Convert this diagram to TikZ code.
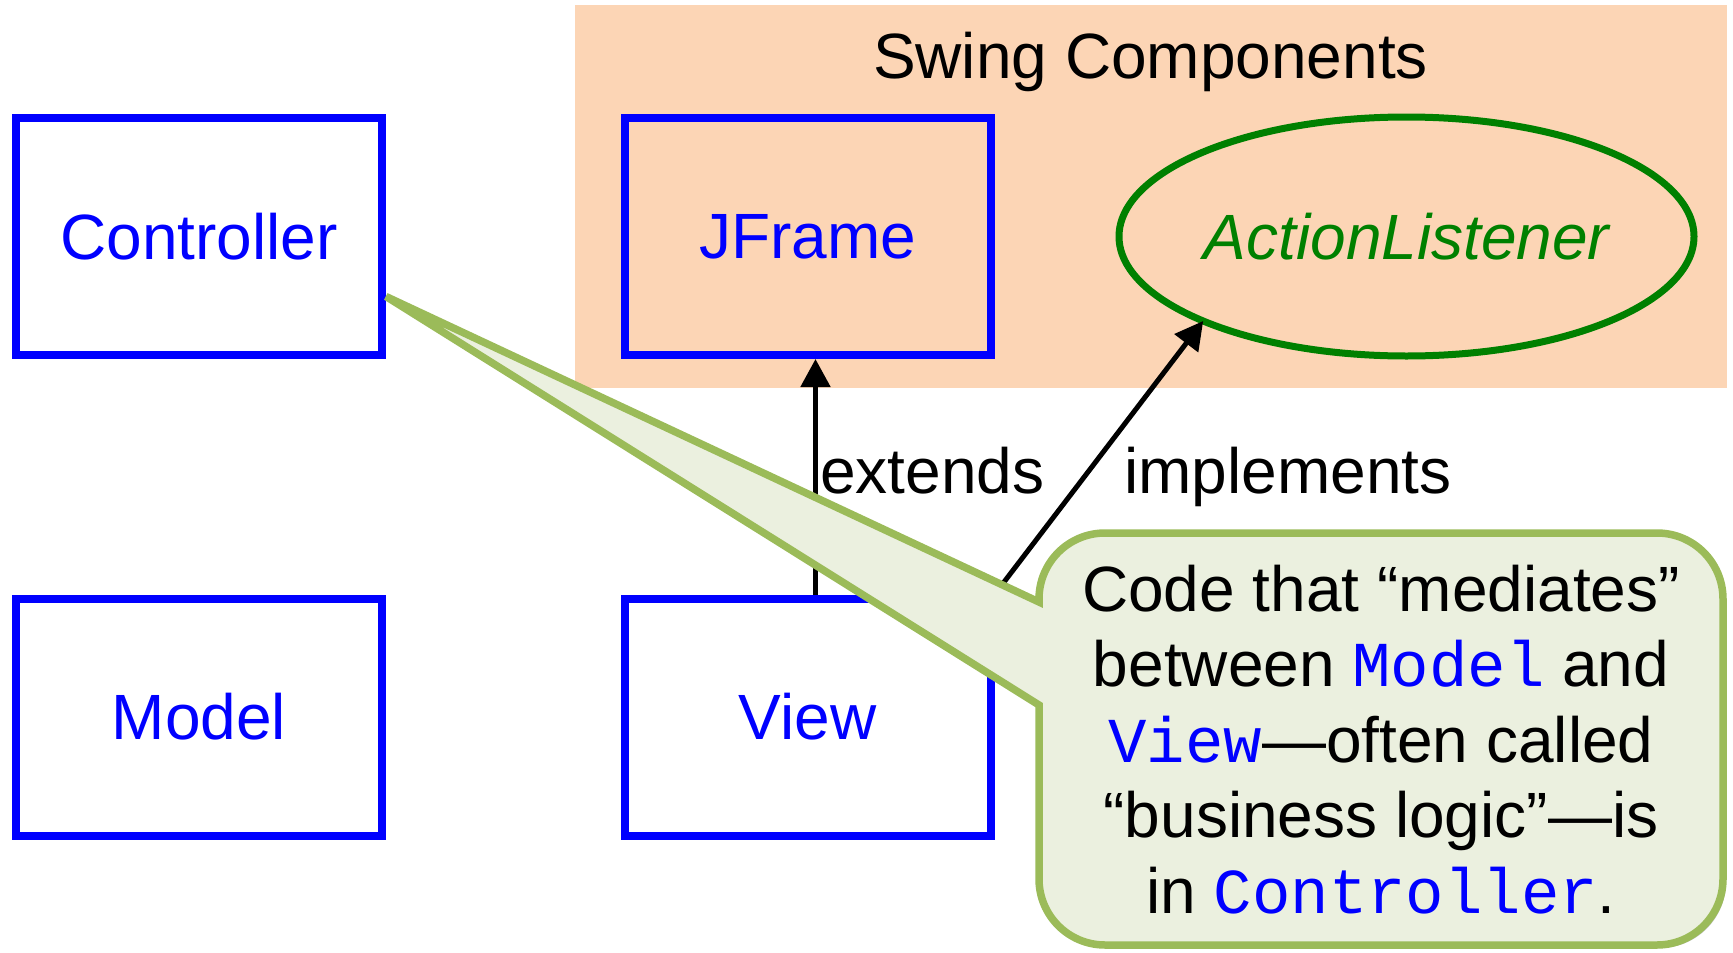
\documentclass[tikz,border=0pt]{standalone}
\usepackage{fontspec}
\setmainfont{Liberation Sans}
\setmonofont{Liberation Mono}
\usetikzlibrary{arrows.meta,shapes.geometric,shadows}

\definecolor{swingbg}{HTML}{FCD5B5}
\definecolor{boxblue}{HTML}{0000FF}
\definecolor{ifgreen}{HTML}{008000}
\definecolor{notefill}{HTML}{EBF0DF}
\definecolor{noteline}{HTML}{9BBB59}

\tikzset{
  classbox/.style={draw=boxblue, line width=8pt, minimum width=366pt,
    minimum height=237pt, inner sep=0pt, text=boxblue,
    font=\fontsize{64}{75}\selectfont},
  ifaceoval/.style={ellipse, draw=ifgreen, line width=7pt, minimum width=575pt,
    minimum height=239pt, inner sep=0pt, outer sep=0pt, text=ifgreen,
    font=\fontsize{64}{75}\selectfont\itshape},
  relarrow/.style={line width=5pt, -{Triangle[length=28pt,width=29pt]}},
  bigtext/.style={inner sep=0pt, font=\fontsize{64}{75}\selectfont},
  noteshape/.style={draw=noteline, fill=notefill, line width=7.5pt,
    drop shadow={shadow xshift=3pt, shadow yshift=-3pt, opacity=.22, fill=black}}
}
\newcommand{\codeword}[1]{{\ttfamily\color{boxblue}#1}}

\begin{document}
\begin{tikzpicture}[x=1pt, y=-1pt]
  \useasboundingbox (0,0) rectangle (1733,953);

  % Swing package area
  \node[fill=swingbg, minimum width=1152pt, minimum height=383pt, inner sep=0pt,
        outer sep=0pt, anchor=north west] (swing) at (575,5) {};
  \node[bigtext, anchor=base] (swingtitle) at (1150.5,78) {Swing Components};

  % classes
  \node[classbox] (ctrl)   at (199,236.5)   {Controller};
  \node[classbox] (jframe) at (807.5,236.5) {JFrame};
  \node[classbox] (model)  at (199,717)     {Model};
  \node[classbox] (view)   at (807.5,717)   {View};
  \node[ifaceoval] (al)    at (1406.5,236.5) {ActionListener};

  % relations
  \draw[relarrow] ([xshift=8pt]view.north) -- ([xshift=8pt]jframe.south);
  \draw[relarrow] (view.north east) -- (al.south west);
  \node[bigtext, anchor=base west] (extlabel) at (820,493) {extends};
  \node[bigtext, anchor=base west] (implabel) at (1124,493) {implements};

  % callout pointing at the controller
  \coordinate (ctip) at ([yshift=-60pt]ctrl.east);
  \draw[noteshape] (1039,602) -- (ctip) -- (1039,705) -- (1039,879)
    .. controls (1039,915.5) and (1068.5,945) .. (1105,945) -- (1657,945)
    .. controls (1693.5,945) and (1723,915.5) .. (1723,879) -- (1723,599)
    .. controls (1723,562.5) and (1693.5,533) .. (1657,533) -- (1105,533)
    .. controls (1068.5,533) and (1039,562.5) .. (1039,599) -- cycle;

  \node[bigtext, anchor=base] (note1) at (1381,611)   {Code that “mediates”};
  \node[bigtext, anchor=base] (note2) at (1381,686.5) {between \codeword{Model} and};
  \node[bigtext, anchor=base] (note3) at (1381,762)   {\codeword{View}—often called};
  \node[bigtext, anchor=base] (note4) at (1381,837.5) {“business logic”—is};
  \node[bigtext, anchor=base] (note5) at (1381,913)   {in \codeword{Controller}.};
\end{tikzpicture}
\end{document}
